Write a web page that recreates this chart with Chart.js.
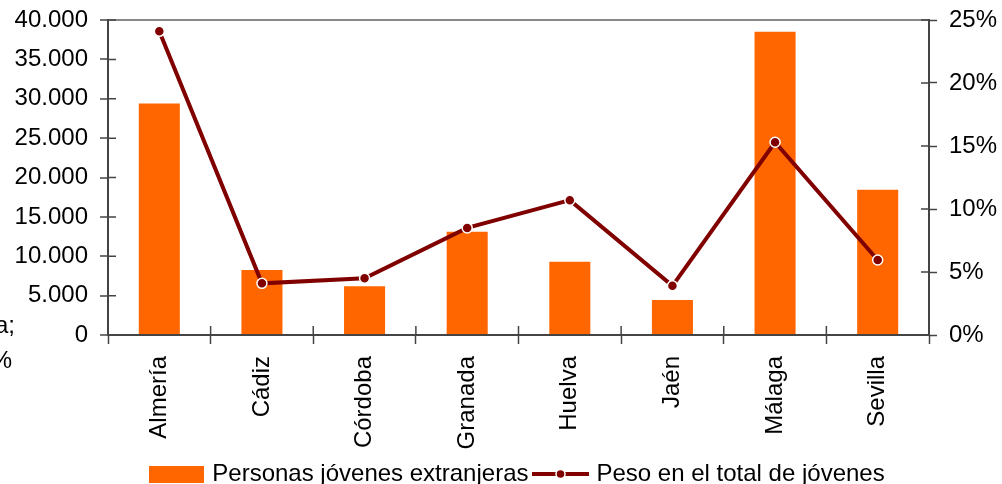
<!DOCTYPE html>
<html>
<head>
<meta charset="utf-8">
<script src="https://cdn.jsdelivr.net/npm/chart.js@4/dist/chart.umd.min.js"></script>
<style>
  html, body { margin: 0; padding: 0; background: #fff; }
  #wrap { width: 1002px; height: 484px; }
</style>
</head>
<body>
<div id="wrap"><canvas id="chart" width="1002" height="484"></canvas></div>
<script>
// data
const provincias = ['Almería', 'Cádiz', 'Córdoba', 'Granada', 'Huelva', 'Jaén', 'Málaga', 'Sevilla'];
const jovenesExtranjeros = [29400, 8250, 6200, 13100, 9300, 4450, 38500, 18450];
const pesoEnTotal = [24.1, 4.1, 4.5, 8.5, 10.7, 3.9, 15.3, 5.95];
const leftTicks = [0, 5000, 10000, 15000, 20000, 25000, 30000, 35000, 40000];
const rightTicks = [0, 5, 10, 15, 20, 25];

const ORANGE = '#ff6600';
const DARKRED = '#800000';
const AXIS = '#444444';
const FONT = { family: '"Liberation Sans", Arial, sans-serif', size: 24 };

const fmtMiles = v => String(v).replace(/\B(?=(\d{3})+(?!\d))/g, '.');

// legend swatches
function lineSwatch() {
  const c = document.createElement('canvas');
  c.width = 57; c.height = 12;
  const g = c.getContext('2d');
  g.strokeStyle = DARKRED; g.lineWidth = 4;
  g.beginPath(); g.moveTo(0, 6); g.lineTo(57, 6); g.stroke();
  g.fillStyle = DARKRED; g.strokeStyle = '#fff'; g.lineWidth = 1.5;
  g.beginPath(); g.arc(28.5, 6, 4.5, 0, Math.PI * 2); g.fill(); g.stroke();
  return c;
}
function boxSwatch() {
  const c = document.createElement('canvas');
  c.width = 55; c.height = 17;
  const g = c.getContext('2d');
  g.fillStyle = ORANGE; g.fillRect(0, 0, 55, 17);
  return c;
}

// short tick marks on the inner side of each axis
const innerTicks = {
  id: 'innerTicks',
  beforeDatasetsDraw(chart) {
    const { ctx, chartArea: a, scales } = chart;
    ctx.save();
    ctx.strokeStyle = AXIS;
    ctx.lineWidth = 1.5;
    ctx.beginPath();
    scales.y.ticks.forEach((t, i) => {
      const py = scales.y.getPixelForTick(i);
      ctx.moveTo(a.left, py); ctx.lineTo(a.left + 8, py);
    });
    scales.y1.ticks.forEach((t, i) => {
      const py = scales.y1.getPixelForTick(i);
      ctx.moveTo(a.right, py); ctx.lineTo(a.right - 8, py);
    });
    const n = provincias.length;
    for (let i = 0; i <= n; i++) {
      const px = a.left + (a.right - a.left) * i / n;
      ctx.moveTo(px, a.bottom); ctx.lineTo(px, a.bottom - 9);
    }
    ctx.stroke();
    ctx.restore();
  },
  afterDraw(chart) {
    // clipped fragments of an off-canvas label at the left edge
    const ctx = chart.ctx;
    ctx.save();
    ctx.font = '24px "Liberation Sans", Arial, sans-serif';
    ctx.fillStyle = '#000';
    ctx.textAlign = 'right';
    ctx.textBaseline = 'middle';
    ctx.fillText('a;', 15, 326);
    ctx.fillText('%', 12, 361);
    ctx.restore();
  }
};

Chart.defaults.font = FONT;
Chart.defaults.color = '#000';

new Chart(document.getElementById('chart').getContext('2d'), {
  data: {
    labels: provincias,
    datasets: [
      {
        type: 'line',
        label: 'Peso en el total de jóvenes',
        data: pesoEnTotal,
        yAxisID: 'y1',
        borderColor: DARKRED,
        borderWidth: 4,
        pointRadius: 5,
        pointBackgroundColor: DARKRED,
        pointBorderColor: '#fff',
        pointBorderWidth: 1.5,
        tension: 0,
        order: 1
      },
      {
        type: 'bar',
        label: 'Personas jóvenes extranjeras',
        data: jovenesExtranjeros,
        yAxisID: 'y',
        backgroundColor: ORANGE,
        barPercentage: 0.4,
        categoryPercentage: 1,
        order: 2
      }
    ]
  },
  options: {
    responsive: false,
    animation: false,
    layout: { padding: { left: 0, right: 0, top: 20, bottom: -12 } },
    plugins: {
      tooltip: { enabled: false },
      legend: {
        position: 'bottom',
        fullSize: false,
        reverse: true,
        labels: {
          font: FONT,
          color: '#000',
          usePointStyle: true,
          pointStyleWidth: 48,
          boxHeight: 17,
          padding: 8,
          generateLabels(chart) {
            return chart.data.datasets.map((ds, i) => ({
              text: ds.label,
              datasetIndex: i,
              pointStyle: ds.type === 'line' ? lineSwatch() : boxSwatch(),
              fillStyle: 'transparent',
              strokeStyle: 'transparent',
              lineWidth: 0,
              fontColor: '#000'
            }));
          }
        }
      }
    },
    scales: {
      x: {
        offset: true,
        grid: { offset: true, display: true, drawOnChartArea: false, tickLength: 9, tickColor: AXIS, tickWidth: 1.5 },
        border: { color: AXIS, width: 2 },
        ticks: { minRotation: 90, maxRotation: 90, padding: 12, font: FONT, color: '#000' },
        afterFit(s) { s.height = 119; }
      },
      y: {
        position: 'left',
        min: 0,
        max: 40000,
        afterBuildTicks(s) { s.ticks = leftTicks.map(v => ({ value: v })); },
        ticks: { callback: v => fmtMiles(v), padding: 12, font: FONT, color: '#000' },
        grid: {
          color: ctx => ctx.tick && ctx.tick.value === 40000 ? '#888' : 'rgba(0,0,0,0)',
          lineWidth: 2,
          tickLength: 8,
          tickColor: AXIS,
          tickWidth: 1.5
        },
        border: { color: AXIS, width: 2 },
        afterFit(s) { s.width = 108; s.paddingTop = 0; s.paddingBottom = 0; }
      },
      y1: {
        position: 'right',
        min: 0,
        max: 25,
        afterBuildTicks(s) { s.ticks = rightTicks.map(v => ({ value: v })); },
        ticks: { callback: v => v + '%', padding: 12, font: FONT, color: '#000' },
        grid: { drawOnChartArea: false, tickLength: 8, tickColor: AXIS, tickWidth: 1.5 },
        border: { color: AXIS, width: 2 },
        afterFit(s) { s.width = 73; s.paddingTop = 0; s.paddingBottom = 0; }
      }
    }
  },
  plugins: [innerTicks]
});
</script>
</body>
</html>
